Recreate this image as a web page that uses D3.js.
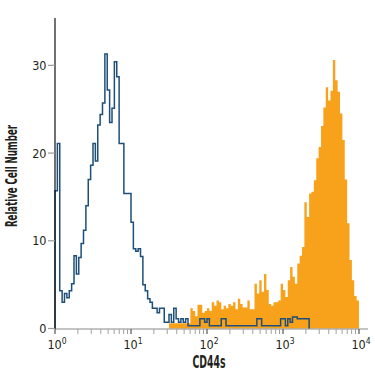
<!DOCTYPE html>
<html lang="en">
<head>
  <meta charset="UTF-8">
  <title>CD44s flow histogram</title>
  <style>
    body { margin: 0; background: #fff; }
    text { font-family: "Liberation Sans Narrow", "DejaVu Sans Condensed", "Open Sans", sans-serif; fill: #231f20; }
  </style>
</head>
<body>
<div id="chart"></div>
<script src="https://d3js.org/d3.v7.min.js"></script>
<script>
  // channels: 32 per decade, 4 decades (10^0 .. 10^4)
  const chPerDecade = 32;

  // isotype control (outline), starts at channel 0
  const controlStart = 0;
  const controlCounts = [
    15.7, 21.1, 4.3, 3.0, 4.0, 3.5, 4.3, 5.1, 8.3, 6.2,
    8.1, 9.7, 11.2, 14.0, 17.0, 18.6, 21.1, 19.1, 23.2, 24.4,
    25.7, 31.3, 27.2, 23.5, 25.1, 30.4, 28.7, 21.1, 21.1, 15.4,
    15.4, 15.4, 12.1, 9.1, 8.8, 9.1, 8.2, 5.0, 4.3, 3.4,
    3.0, 2.3, 2.3, 1.8, 2.3, 2.3, 0.7, 0.7, 1.6, 0.7,
    2.3, 1.1, 0.7, 1.1, 0.7, 1.1, 0.3, 0.3, 0.3, 0.3,
    0.3, 1.1, 1.1, 0.7, 1.1, 0.3, 0.3, 0.3, 0.3, 0.3,
    1.1, 1.1, 0.3, 0.3, 0.3, 0.3, 0.3, 0.3, 0.3, 0.3,
    0.3, 0.3, 0.3, 0.3, 0.3, 1.1, 1.1, 0.3, 0.3, 0.3,
    0.3, 0.3, 0.3, 0.3, 0.3, 1.1, 1.1, 0.3, 1.1, 0.7,
    1.3, 1.3, 1.1, 1.1, 1.1, 1.1, 1.1
  ];

  // CD44s stained cells (filled), starts at channel 48
  const stainedStart = 48;
  const stainedCounts = [
    0.6, 0.6, 0.6, 0.6, 0.6, 0.6, 0.6, 0.6, 0.6, 2.3,
    2.0, 1.4, 2.7, 2.7, 1.8, 2.0, 2.3, 2.0, 3.0, 2.6,
    3.2, 3.0, 2.2, 2.6, 2.3, 2.8, 2.6, 3.0, 2.2, 3.4,
    2.8, 2.4, 2.4, 3.2, 2.2, 2.2, 5.1, 4.0, 5.5, 4.2,
    6.2, 4.4, 2.8, 2.6, 3.0, 3.0, 3.2, 5.1, 4.4, 3.6,
    5.5, 7.0, 5.9, 5.1, 7.4, 8.3, 9.3, 14.4, 12.7, 15.4,
    15.6, 16.9, 19.4, 20.7, 23.1, 25.2, 27.5, 26.0, 27.1, 30.6,
    28.3, 27.0, 24.5, 21.5, 17.0, 12.0, 7.8, 5.5, 3.7, 3.2
  ];

  const yTicks = [0, 10, 20, 30];
  const xDecades = [0, 1, 2, 3, 4];

  const width = 375, height = 375;
  const svg = d3.select("#chart").append("svg")
    .attr("width", width)
    .attr("height", height);

  const x = d3.scaleLog().domain([1, 1e4]).range([55, 359]);
  const y = d3.scaleLinear().domain([0, 35.4]).range([328.5, 18]);
  const chToVal = ch => Math.pow(10, ch / chPerDecade);

  // stained histogram, filled steps
  const stainedPts = stainedCounts.map((v, i) => [stainedStart + i, v]);
  stainedPts.push([stainedStart + stainedCounts.length, stainedCounts[stainedCounts.length - 1]]);
  const area = d3.area()
    .x(d => x(chToVal(d[0])))
    .y0(y(0))
    .y1(d => y(d[1]))
    .curve(d3.curveStepAfter);
  svg.append("path")
    .datum(stainedPts)
    .attr("fill", "#f8a21c")
    .attr("d", area);

  // x axis line
  const axisY = 329;
  svg.append("line")
    .attr("x1", x(1)).attr("x2", x(1e4) + 9)
    .attr("y1", axisY).attr("y2", axisY)
    .attr("stroke", "#8a8a8a").attr("stroke-width", 1.2);

  // log ticks
  const minor = [];
  for (let d = 0; d < 4; d++) {
    for (let k = 2; k <= 9; k++) minor.push(k * Math.pow(10, d));
  }
  svg.selectAll(".minor").data(minor).enter().append("line")
    .attr("x1", d => x(d)).attr("x2", d => x(d))
    .attr("y1", axisY).attr("y2", axisY + 5)
    .attr("stroke", "#a0a0a0").attr("stroke-width", 1);
  svg.selectAll(".major").data(xDecades).enter().append("line")
    .attr("x1", d => x(Math.pow(10, d))).attr("x2", d => x(Math.pow(10, d)))
    .attr("y1", axisY).attr("y2", axisY + 5)
    .attr("stroke", "#555").attr("stroke-width", 1.2);

  const xl = svg.selectAll(".xl").data(xDecades).enter().append("text")
    .attr("x", d => x(Math.pow(10, d)) + 2)
    .attr("y", 349)
    .attr("text-anchor", "middle")
    .style("font-size", "12.5px");
  xl.append("tspan").text("10");
  xl.append("tspan").attr("dy", -5).style("font-size", "8.5px").text(d => d);

  // control histogram, outline
  const ctrlPts = [[x(chToVal(controlStart)), y(0)]];
  controlCounts.forEach((v, i) => {
    ctrlPts.push([x(chToVal(controlStart + i)), y(v)]);
    ctrlPts.push([x(chToVal(controlStart + i + 1)), y(v)]);
  });
  ctrlPts.push([x(chToVal(controlStart + controlCounts.length)), y(0)]);
  svg.append("path")
    .attr("d", d3.line()(ctrlPts))
    .attr("fill", "none")
    .attr("stroke", "#1d4f7a")
    .attr("stroke-width", 1.5)
    .attr("stroke-linejoin", "miter");

  // y axis
  svg.append("line")
    .attr("x1", 55).attr("x2", 55)
    .attr("y1", 18).attr("y2", axisY)
    .attr("stroke", "#111").attr("stroke-width", 1.2);
  svg.selectAll(".yt").data(yTicks).enter().append("line")
    .attr("x1", 48).attr("x2", 55)
    .attr("y1", d => y(d)).attr("y2", d => y(d))
    .attr("stroke", "#999").attr("stroke-width", 1.2);
  svg.selectAll(".yl").data(yTicks).enter().append("text")
    .attr("x", 46.5)
    .attr("y", d => y(d) + 4.5)
    .attr("text-anchor", "end")
    .style("font-size", "12.5px")
    .text(d => d);

  // axis titles
  svg.append("text")
    .attr("transform", "translate(17,176) rotate(-90)")
    .attr("text-anchor", "middle")
    .attr("textLength", 102)
    .attr("lengthAdjust", "spacingAndGlyphs")
    .style("font-size", "16.5px")
    .style("font-weight", "bold")
    .text("Relative Cell Number");

  svg.append("text")
    .attr("x", 209)
    .attr("y", 368)
    .attr("text-anchor", "middle")
    .attr("textLength", 33)
    .attr("lengthAdjust", "spacingAndGlyphs")
    .style("font-size", "18px")
    .style("font-weight", "bold")
    .text("CD44s");
</script>
</body>
</html>
